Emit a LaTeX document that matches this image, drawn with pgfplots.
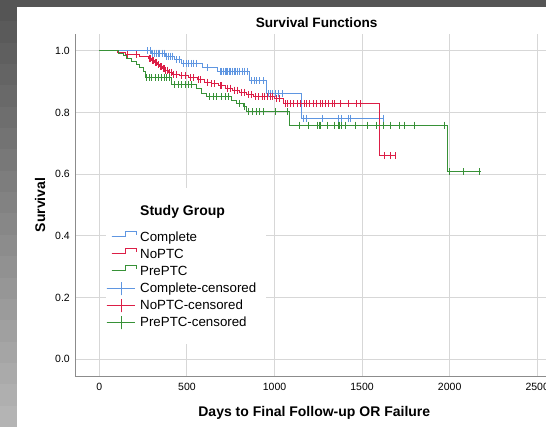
\documentclass[border=0pt]{standalone}
\usepackage{pgfplots}
\pgfplotsset{compat=1.18}
\usepackage{fontspec}
\setmainfont{Liberation Sans}
\definecolor{cblue}{RGB}{95,150,225}
\definecolor{cred}{RGB}{220,30,70}
\definecolor{cgreen}{RGB}{55,145,55}
\definecolor{gridc}{RGB}{215,215,215}
\definecolor{axc}{RGB}{140,140,140}
\pgfplotsset{
 steplegend/.style={legend image code/.code={\draw[#1,line width=1pt,postaction={draw=#1,line width=1pt}] (5pt,1.25pt) -- (19pt,1.25pt) -- (19pt,6.25pt) -- (30pt,6.25pt) -- (30pt,3.5pt);}},
 censlegend/.style={legend image code/.code={\draw[#1,line width=1pt,postaction={draw=#1,line width=1pt}] (0pt,0.25pt) -- (28.5pt,0.25pt) (15pt,-6.25pt) -- (15pt,6.75pt);}},
}
\begin{document}
\begin{tikzpicture}
\foreach \i in {0,...,19} {
  \pgfmathtruncatemacro\g{85+95*\i/19}
  \definecolor{bgc}{RGB}{\g,\g,\g}
  \fill[bgc] (-75pt,{(376-(\i+1)*21.35-0.5)*1pt}) rectangle (471pt,{(376-\i*21.35)*1pt});
}
\fill[white] (-58.3pt,-51pt) rectangle (471pt,369.3pt);
\begin{axis}[
 at={(0pt,0pt)}, anchor=south west,
 scale only axis, width=471pt, height=342pt,
 xmin=-139, xmax=2550, ymin=-0.054, ymax=1.054,
 axis lines*=left,
 axis line style={-, axc, line width=0.8pt},
 major tick length=0pt,
 xtick={0,500,1000,1500,2000,2500},
 ytick={0,0.2,0.4,0.6,0.8,1.0},
 grid=major, major grid style={gridc, line width=0.9pt},
 /pgf/number format/assume math mode=true,
 tick label style={font=\fontsize{10.5}{12}\selectfont},
 x tick label style={/pgf/number format/1000 sep={}, anchor=north, inner sep=0pt, yshift=-7pt},
 y tick label style={/pgf/number format/.cd, fixed, fixed zerofill, precision=1, /tikz/.cd, anchor=east, inner sep=0pt, xshift=-5pt},
 xlabel={Days to Final Follow-up OR Failure},
 xlabel style={at={(axis description cs:0.508,-0.119)}, anchor=base, font=\fontsize{14}{16}\selectfont\bfseries},
 ylabel={Survival},
 ylabel style={at={(axis description cs:-0.0743,0.5)}, anchor=center, font=\fontsize{14}{16}\selectfont\bfseries},
 title={Survival Functions},
 every axis title shift=0pt,
 title style={at={(axis description cs:0.513,1.0196)}, anchor=base, font=\fontsize{13.6}{15}\selectfont\bfseries},
 legend cell align=left,
 legend style={at={(axis description cs:0.0658,0.5497)}, anchor=north west, fill=white, draw=none,
   inner xsep=0pt, inner ysep=0pt, row sep=0pt, column sep=3pt,
   font=\fontsize{13.3}{15}\selectfont, nodes={inner sep=0pt, text height=12pt, text depth=5pt}},
]
% Complete
\addplot[sharp plot, color=cblue, line width=1pt, postaction={draw=cblue, line width=1pt}, forget plot] coordinates {
(0,1.0) (300,1.0) (300,0.992) (380,0.992) (380,0.982) (430,0.982) (430,0.970) (470,0.970) (470,0.959) (587,0.959) (587,0.946) (677,0.946) (677,0.933) (856,0.933) (856,0.903) (955,0.903) (955,0.860) (1154,0.860) (1154,0.781) (1622,0.781)};
\addplot[only marks, mark=|, mark size=3.5pt, color=cblue, mark options={line width=1pt}, forget plot] coordinates {
(275,1.0) (290,1.0)
(305,0.992) (315,0.992) (325,0.992) (335,0.992) (345,0.992) (360,0.992) (370,0.992)
(385,0.982) (395,0.982) (405,0.982) (415,0.982)
(440,0.970) (455,0.970)
(480,0.959) (495,0.959) (510,0.959) (525,0.959) (540,0.959) (555,0.959)
(620,0.946)
(690,0.933) (700,0.933) (710,0.933) (718,0.933) (726,0.933) (734,0.933) (742,0.933) (750,0.933) (760,0.933) (770,0.933) (780,0.933) (790,0.933) (800,0.933) (815,0.933) (830,0.933) (845,0.933)
(870,0.903) (885,0.903) (900,0.903) (915,0.903) (940,0.903)
(965,0.860) (975,0.860) (990,0.860) (1005,0.860) (1020,0.860) (1045,0.860)
(1164,0.781) (1184,0.781) (1274,0.781) (1363,0.781) (1383,0.781) (1423,0.781) (1433,0.781) (1622,0.781)};
% NoPTC
\addplot[sharp plot, color=cred, line width=1pt, postaction={draw=cred, line width=1pt}, forget plot] coordinates {
(0,1.0) (105,1.0) (105,0.995) (150,0.995) (150,0.988) (230,0.988) (230,0.982) (280,0.982) (280,0.975) (300,0.975) (300,0.968) (315,0.968) (315,0.962) (330,0.962) (330,0.955) (345,0.955) (345,0.948) (360,0.948) (360,0.942) (375,0.942) (375,0.936) (395,0.936) (395,0.930) (420,0.930) (420,0.924) (460,0.924) (460,0.918) (510,0.918) (510,0.912) (560,0.912) (560,0.905) (600,0.905) (600,0.898) (640,0.898) (640,0.892) (680,0.892) (680,0.886) (720,0.886) (720,0.879) (760,0.879) (760,0.872) (800,0.872) (800,0.865) (840,0.865) (840,0.858) (880,0.858) (880,0.851) (1000,0.851) (1000,0.846) (1050,0.846) (1050,0.828) (1600,0.828) (1600,0.660) (1690,0.660)};
\addplot[only marks, mark=|, mark size=3.5pt, color=cred, mark options={line width=1pt}, forget plot] coordinates {
(160,0.988) (210,0.988)
(285,0.975) (292,0.975) (305,0.968) (308,0.968) (318,0.962) (325,0.962) (335,0.955) (340,0.955) (350,0.948) (355,0.948) (365,0.942) (370,0.942) (380,0.936) (390,0.936) (400,0.930) (410,0.930) (425,0.924) (440,0.924)
(470,0.918) (490,0.918) (520,0.912) (540,0.912) (565,0.905) (580,0.905)
(620,0.898) (640,0.892) (660,0.892) (690,0.886) (700,0.886) (730,0.879) (750,0.879) (770,0.872) (790,0.872) (810,0.865) (830,0.865) (850,0.858) (870,0.858)
(890,0.851) (910,0.851) (930,0.851) (945,0.851) (960,0.851) (975,0.851) (990,0.851) (1010,0.846) (1030,0.846)
(1060,0.828) (1075,0.828) (1090,0.828) (1110,0.828) (1130,0.828) (1150,0.828) (1170,0.828) (1185,0.828) (1200,0.828) (1220,0.828) (1240,0.828) (1260,0.828) (1275,0.828) (1290,0.828) (1310,0.828) (1330,0.828) (1345,0.828) (1375,0.828) (1420,0.828) (1470,0.828) (1490,0.828)
(1630,0.660) (1665,0.660) (1690,0.660)};
% PrePTC
\addplot[sharp plot, color=cgreen, line width=1pt, postaction={draw=cgreen, line width=1pt}, forget plot] coordinates {
(0,1.0) (109,1.0) (109,0.992) (137,0.992) (137,0.985) (156,0.985) (156,0.974) (185,0.974) (185,0.965) (213,0.965) (213,0.954) (232,0.954) (232,0.944) (251,0.944) (251,0.933) (261,0.933) (261,0.913) (413,0.913) (413,0.889) (556,0.889) (556,0.878) (584,0.878) (584,0.862) (613,0.862) (613,0.851) (756,0.851) (756,0.840) (784,0.840) (784,0.829) (822,0.829) (822,0.818) (841,0.818) (841,0.802) (1088,0.802) (1088,0.759) (1988,0.759) (1988,0.607) (2180,0.607)};
\addplot[only marks, mark=|, mark size=3.5pt, color=cgreen, mark options={line width=1pt}, forget plot] coordinates {
(270,0.913) (285,0.913) (300,0.913) (320,0.913) (340,0.913) (355,0.913) (370,0.913) (385,0.913) (400,0.913)
(430,0.889) (450,0.889) (470,0.889) (490,0.889) (510,0.889) (525,0.889)
(630,0.851) (650,0.851) (670,0.851) (700,0.851) (720,0.851) (740,0.851)
(800,0.829) (830,0.818)
(850,0.802) (876,0.802) (896,0.802) (915,0.802) (935,0.802) (1005,0.802) (1075,0.802)
(1144,0.759) (1194,0.759) (1244,0.759) (1255,0.759) (1264,0.759) (1303,0.759) (1343,0.759) (1365,0.759) (1373,0.759) (1380,0.759) (1403,0.759) (1463,0.759) (1532,0.759) (1582,0.759) (1622,0.759) (1662,0.759) (1711,0.759) (1741,0.759) (1801,0.759) (1970,0.759)
(1998,0.607) (2080,0.607) (2172,0.607)};
\addlegendimage{empty legend}
\addlegendentry[text height=27pt, text depth=14.5pt]{\bfseries\fontsize{14}{16}\selectfont Study Group}
\addlegendimage{steplegend=cblue}
\addlegendentry{Complete}
\addlegendimage{steplegend=cred}
\addlegendentry{NoPTC}
\addlegendimage{steplegend=cgreen}
\addlegendentry{PrePTC}
\addlegendimage{censlegend=cblue}
\addlegendentry{Complete-censored\hspace*{9.5pt}}
\addlegendimage{censlegend=cred}
\addlegendentry{NoPTC-censored}
\addlegendimage{censlegend=cgreen}
\addlegendentry{PrePTC-censored}
\addlegendimage{empty legend}
\addlegendentry[text height=12.5pt, text depth=0pt]{}
\end{axis}
\pgfresetboundingbox
\path[use as bounding box] (-75pt,-51pt) rectangle (471pt,376pt);
\end{tikzpicture}
\end{document}
